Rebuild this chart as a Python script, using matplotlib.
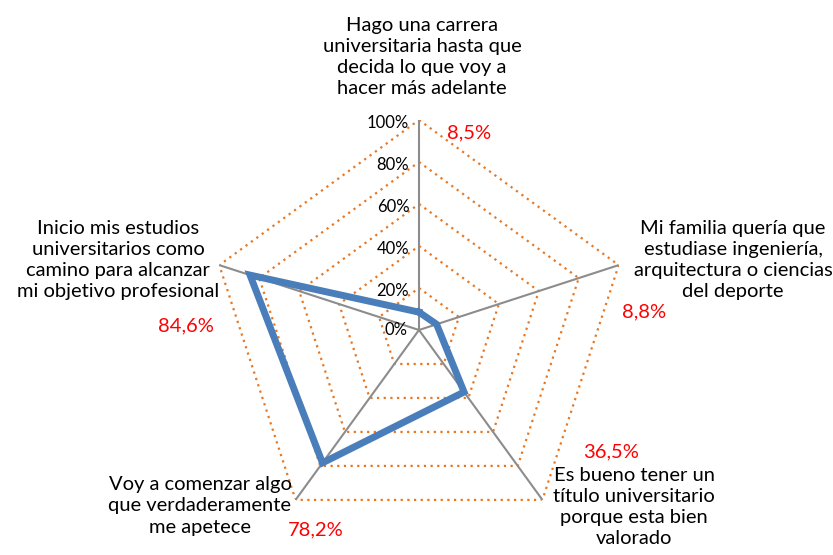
import numpy as np
import matplotlib.pyplot as plt

plt.rcParams['font.family'] = ['Lato', 'DejaVu Sans']

categories = [
    "Hago una carrera\nuniversitaria hasta que\ndecida lo que voy a\nhacer más adelante",
    "Mi familia quería que\nestudiase ingeniería,\narquitectura o ciencias\ndel deporte",
    "Es bueno tener un\ntítulo universitario\nporque esta bien\nvalorado",
    "Voy a comenzar algo\nque verdaderamente\nme apetece",
    "Inicio mis estudios\nuniversitarios como\ncamino para alcanzar\nmi objetivo profesional",
]
values = [0.085, 0.088, 0.365, 0.782, 0.846]
value_labels = ["8,5%", "8,8%", "36,5%", "78,2%", "84,6%"]
levels = [0.2, 0.4, 0.6, 0.8, 1.0]
level_labels = ["20%", "40%", "60%", "80%", "100%"]

W, H = 833, 555
fig = plt.figure(figsize=(W / 100, H / 100), dpi=100)

cx, cy, R = 419, 330, 210
ax = fig.add_axes([(cx - R) / W, (H - cy - R) / H, 2 * R / W, 2 * R / H], polar=True)
ax.set_theta_zero_location('N')
ax.set_theta_direction(-1)
ax.set_ylim(0, 1)
ax.grid(False)
ax.spines['polar'].set_visible(False)
ax.set_xticks([])
ax.set_yticks([])
ax.patch.set_alpha(0)

n = len(values)
angles = np.linspace(0, 2 * np.pi, n, endpoint=False)
closed = np.append(angles, angles[0])

# pentagon grid
for lv in levels:
    ax.plot(closed, [lv] * (n + 1), color='#E87722', lw=1.6, ls=(0, (1, 2)))
# spokes
for a in angles:
    ax.plot([a, a], [0, 1], color='#8C8C8C', lw=1.5)

ax.plot(closed, np.append(values, values[0]), color='#4A7EBB', lw=5,
        solid_joinstyle='miter', zorder=5)

# radial labels
ax.annotate("0%", (0, 0), xytext=(-8, 0), textcoords='offset points',
            ha='right', va='center', fontsize=12)
for lv, lab in zip(levels, level_labels):
    ax.annotate(lab, (0, lv), xytext=(-7, -2), textcoords='offset points',
                ha='right', va='center', fontsize=12)

# category labels (pixel positions)
cat_pos = [(422, 57, 'center'), (733, 260, 'center'), (634, 507, 'center'),
           (200, 506, 'center'), (118, 260, 'center')]
for txt, (x, y, ha) in zip(categories, cat_pos):
    fig.text(x / W, 1 - y / H, txt, ha=ha, va='center', fontsize=14.5,
             linespacing=1.3)

val_pos = [(469, 133), (644, 312), (611, 452), (316, 530), (186, 326)]
for txt, (x, y) in zip(value_labels, val_pos):
    fig.text(x / W, 1 - y / H, txt, ha='center', va='center', fontsize=14.5,
             color='#FF0000')

plt.savefig("out.png", dpi=100)
